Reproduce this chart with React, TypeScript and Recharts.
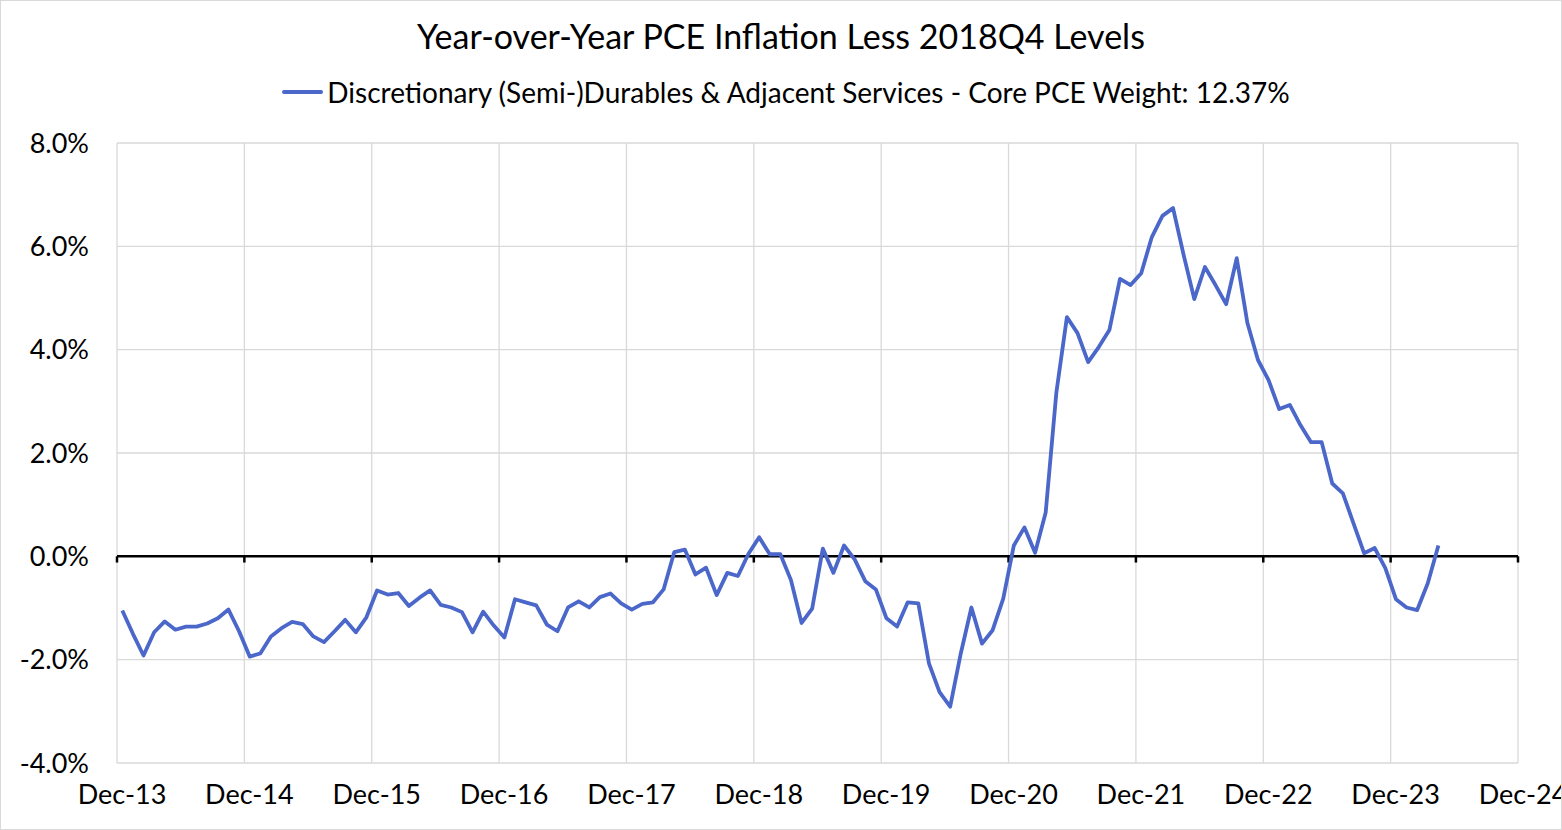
import React from 'react';
import { LineChart, Line, XAxis, YAxis, CartesianGrid, ReferenceLine } from 'recharts';

// Monthly values, Dec-2013 through Apr-2024 (percent)
const values2013 = [-1.05];
const values2014 = [-1.5, -1.92, -1.47, -1.26, -1.42, -1.36, -1.36, -1.3, -1.2, -1.03, -1.45, -1.94];
const values2015 = [-1.88, -1.55, -1.39, -1.27, -1.31, -1.55, -1.66, -1.45, -1.23, -1.47, -1.18, -0.66];
const values2016 = [-0.74, -0.71, -0.96, -0.8, -0.66, -0.94, -0.99, -1.08, -1.47, -1.07, -1.34, -1.57];
const values2017 = [-0.83, -0.89, -0.95, -1.32, -1.45, -0.99, -0.87, -0.99, -0.79, -0.72, -0.91, -1.03];
const values2018 = [-0.92, -0.89, -0.64, 0.08, 0.13, -0.35, -0.22, -0.75, -0.32, -0.38, 0.05, 0.37];
const values2019 = [0.04, 0.04, -0.46, -1.29, -1.01, 0.15, -0.32, 0.21, -0.06, -0.48, -0.64, -1.2];
const values2020 = [-1.36, -0.89, -0.91, -2.07, -2.63, -2.91, -1.88, -0.99, -1.69, -1.43, -0.82, 0.21];
const values2021 = [0.56, 0.07, 0.85, 3.16, 4.63, 4.32, 3.76, 4.05, 4.38, 5.37, 5.25, 5.48];
const values2022 = [6.18, 6.59, 6.74, 5.83, 4.98, 5.6, 5.25, 4.88, 5.77, 4.52, 3.8, 3.41];
const values2023 = [2.85, 2.93, 2.54, 2.21, 2.21, 1.41, 1.22, 0.64, 0.06, 0.16, -0.23, -0.83];
const values2024 = [-0.99, -1.04, -0.52, 0.21];

const xTickLabels = ['Dec-13', 'Dec-14', 'Dec-15', 'Dec-16', 'Dec-17', 'Dec-18', 'Dec-19', 'Dec-20', 'Dec-21', 'Dec-22', 'Dec-23', 'Dec-24'];
const yTicks = [-4, -2, 0, 2, 4, 6, 8];

const TITLE = 'Year-over-Year PCE Inflation Less 2018Q4 Levels';
const SERIES_NAME = 'Discretionary (Semi-)Durables & Adjacent Services - Core PCE Weight: 12.37%';

const series = [
  ...values2013, ...values2014, ...values2015, ...values2016, ...values2017, ...values2018,
  ...values2019, ...values2020, ...values2021, ...values2022, ...values2023, ...values2024,
];
const data = series.map((v, i) => ({ t: i, v }));
const xTicks = xTickLabels.map((_, i) => i * 12 - 0.5);

const LINE_COLOR = '#4a67c9';
const FONT = 'Lato, "Open Sans", sans-serif';

export default function App() {
  return (
    <div style={{ position: 'absolute', left: 0, top: 0, width: 1562, height: 830, background: '#fff', fontFamily: FONT }}>
      <div style={{ position: 'absolute', left: 0, top: 19, width: 1562, textAlign: 'center', fontSize: 34, lineHeight: '34px', color: '#000', whiteSpace: 'nowrap' }}>
        {TITLE}
      </div>
      <div style={{ position: 'absolute', left: 0, top: 78, width: 1562, display: 'flex', justifyContent: 'center', alignItems: 'center', fontSize: 28, lineHeight: '28px', color: '#000', whiteSpace: 'nowrap' }}>
        <div style={{ display: 'flex', alignItems: 'center', marginLeft: 10 }}>
          <span style={{ display: 'inline-block', width: 41, height: 4, background: LINE_COLOR, marginRight: 4, borderRadius: 2 }} />
          <span>{SERIES_NAME}</span>
        </div>
      </div>
      <div style={{ position: 'absolute', left: 0, top: 0 }}>
        <LineChart width={1562} height={830} data={data} margin={{ top: 143, right: 44, bottom: 27, left: 0 }}>
          <CartesianGrid stroke="#d9d9d9" strokeWidth={1.3} verticalValues={xTicks} horizontalValues={yTicks} />
          <XAxis
            dataKey="t"
            type="number"
            domain={[-0.5, 131.5]}
            ticks={xTicks}
            interval={0}
            height={40}
            axisLine={false}
            tickLine={false}
            tickSize={0}
            tickMargin={22}
            tick={{ fill: '#000', fontSize: 27, fontFamily: FONT, dx: 5 }}
            tickFormatter={(val: number) => xTickLabels[Math.round((val + 0.5) / 12)] ?? ''}
          />
          <YAxis
            type="number"
            domain={[-4, 8]}
            ticks={yTicks}
            interval={0}
            width={117}
            axisLine={false}
            tickLine={false}
            tickSize={0}
            tickMargin={28}
            tick={{ fill: '#000', fontSize: 27, fontFamily: FONT }}
            tickFormatter={(val: number) => `${val.toFixed(1)}%`}
          />
          <ReferenceLine y={0} stroke="#000" strokeWidth={2.5} />
          {xTicks.map((t) => (
            <ReferenceLine key={t} segment={[{ x: t, y: 0 }, { x: t, y: -0.12 }]} stroke="#000" strokeWidth={2.5} />
          ))}
          <Line
            type="linear"
            dataKey="v"
            stroke={LINE_COLOR}
            strokeWidth={3.8}
            dot={false}
            isAnimationActive={false}
            strokeLinejoin="round"
          />
        </LineChart>
      </div>
      <div style={{ position: 'absolute', left: 0, top: 0, width: 1562, height: 830, boxSizing: 'border-box', border: '1.5px solid #d9d9d9', pointerEvents: 'none' }} />
    </div>
  );
}
